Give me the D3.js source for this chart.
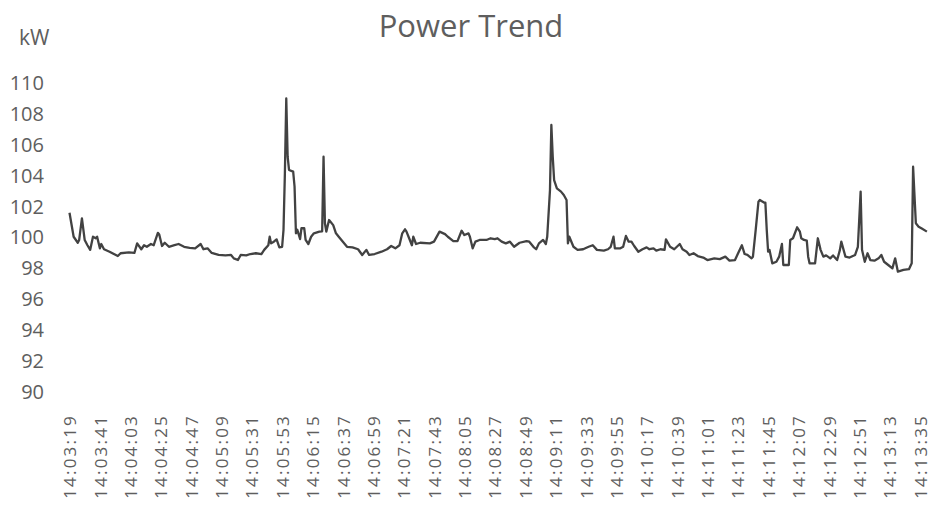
<!DOCTYPE html>
<html>
<head>
<meta charset="utf-8">
<script src="https://cdn.jsdelivr.net/npm/d3@7/dist/d3.min.js"></script>
<style>
  html, body { margin: 0; padding: 0; background: #fff; }
  svg { display: block; }
</style>
</head>
<body>
<svg id="chart" width="933" height="506"></svg>
<script>
// ---- data ----
const titleText = "Power Trend";
const unitLabel = "kW";
const tickLabels = ["14:03:19","14:03:41","14:04:03","14:04:25","14:04:47","14:05:09","14:05:31","14:05:53","14:06:15","14:06:37","14:06:59","14:07:21","14:07:43","14:08:05","14:08:27","14:08:49","14:09:11","14:09:33","14:09:55","14:10:17","14:10:39","14:11:01","14:11:23","14:11:45","14:12:07","14:12:29","14:12:51","14:13:13","14:13:35"];
const tickStepSec = 22;
const yTicks = [90,92,94,96,98,100,102,104,106,108,110];
// seconds elapsed since 14:03:19
const elapsedSec = [0,3,6,7,9,11,13,15,17,19,20,22,23,25,29,35,37,43,47,49,52,54,56,59,61,64,65,67,69,72,76,79,83,87,91,95,97,100,103,108,113,117,119,122,124,128,131,135,139,141,144,145,146,148,150,152,154,155,156,157,158,159,162,163,164,165,167,168,170,171,173,175,177,181,183,184,185,186,188,191,193,195,198,201,205,209,212,215,217,221,226,230,233,236,239,241,243,244,246,248,249,251,254,261,264,268,272,274,278,281,284,286,289,290,292,294,297,302,305,308,310,313,316,319,322,326,331,333,336,338,340,343,345,346,348,349,350,351,353,356,358,360,361,362,365,368,372,376,379,382,387,390,392,394,395,399,401,403,405,407,409,412,415,418,420,423,425,428,431,432,435,438,442,444,447,449,452,455,459,462,467,471,475,478,482,484,487,489,491,494,495,497,499,500,503,504,505,506,507,509,512,514,516,517,521,522,524,527,529,530,532,534,535,536,540,542,544,546,548,551,553,556,558,559,562,565,569,571,573,574,576,578,580,583,586,588,590,593,596,598,600,604,608,610,611,613,615,617,621];
const powerKW = [101.6,100.05,99.66,99.84,101.24,99.84,99.5,99.2,100.05,99.95,100.05,99.3,99.58,99.24,99.08,98.8,98.98,99.04,99.0,99.62,99.24,99.5,99.4,99.58,99.5,100.3,100.2,99.45,99.66,99.4,99.5,99.58,99.4,99.33,99.3,99.58,99.24,99.3,99.0,98.87,98.84,98.87,98.65,98.54,98.87,98.84,98.93,98.98,98.93,99.2,99.5,100.05,99.62,99.73,99.88,99.36,99.4,100.49,104.15,109.0,105.23,104.37,104.26,103.3,100.27,100.5,99.9,100.6,100.6,99.84,99.58,100.05,100.27,100.38,100.4,105.23,100.92,100.38,101.13,100.8,100.27,100.05,99.73,99.4,99.36,99.24,98.87,99.2,98.87,98.93,99.08,99.24,99.45,99.3,99.5,100.27,100.53,100.4,99.95,99.5,100.05,99.58,99.66,99.62,99.73,100.38,100.22,100.05,99.77,99.77,100.44,100.16,100.27,100.05,99.3,99.73,99.84,99.84,99.95,99.9,99.95,99.73,99.62,99.73,99.4,99.66,99.77,99.73,99.4,99.24,99.62,99.84,99.58,100.05,103.07,107.28,105.23,103.72,103.18,102.97,102.75,102.43,99.62,100.05,99.4,99.2,99.24,99.4,99.5,99.2,99.15,99.24,99.4,100.05,99.3,99.3,99.4,100.1,99.73,99.73,99.45,99.08,99.24,99.36,99.24,99.3,99.15,99.24,99.2,99.88,99.4,99.24,99.58,99.24,99.08,98.87,98.98,98.8,98.7,98.54,98.65,98.6,98.76,98.5,98.54,98.93,99.5,98.93,98.87,98.65,98.76,100.49,102.32,102.43,102.26,102.26,100.49,99.08,99.2,98.33,98.43,98.76,99.58,98.22,98.22,99.84,99.95,100.66,100.38,99.95,99.84,99.8,98.76,98.33,98.33,99.95,99.2,98.76,98.84,98.65,98.84,98.54,99.2,99.73,98.76,98.7,98.87,99.4,102.97,99.2,98.43,98.98,98.54,98.5,98.65,98.87,98.43,98.22,98.0,98.65,97.79,97.9,97.95,98.33,104.58,100.92,100.7,100.6,100.38];

// ---- chart ----
const svg = d3.select("#chart");
const textColor = "#5e5e5e";
const font = "'Open Sans', sans-serif";

const x = d3.scaleLinear()
  .domain([0, tickStepSec * (tickLabels.length - 1)])
  .range([69.5, 920]);
const y = d3.scaleLinear().domain([90, 110]).range([392, 83]);

// title
svg.append("text")
  .attr("x", 471).attr("y", 37)
  .attr("text-anchor", "middle")
  .attr("font-family", font).attr("font-size", 31)
  .attr("fill", textColor)
  .text(titleText);

// unit label
svg.append("text")
  .attr("x", 19).attr("y", 45)
  .attr("font-family", font).attr("font-size", 21)
  .attr("fill", textColor)
  .text(unitLabel);

// y axis (labels only)
const yAxis = d3.axisLeft(y).tickValues(yTicks).tickSize(0).tickPadding(0);
const gy = svg.append("g").attr("transform", "translate(44,0)").call(yAxis);
gy.select(".domain").remove();
gy.selectAll("text")
  .attr("font-family", font).attr("font-size", 20)
  .attr("fill", textColor);

// x axis (rotated labels)
const xAxis = d3.axisBottom(x)
  .tickValues(tickLabels.map((d, i) => i * tickStepSec))
  .tickFormat((d, i) => tickLabels[i])
  .tickSize(0);
const gx = svg.append("g").attr("transform", "translate(0,414)").call(xAxis);
gx.select(".domain").remove();
gx.selectAll("text")
  .attr("font-family", font).attr("font-size", 17)
  .attr("letter-spacing", "2.2px")
  .attr("fill", textColor)
  .attr("text-anchor", "end")
  .attr("transform", "rotate(-90)")
  .attr("x", 0).attr("y", 0).attr("dy", "0.36em");

// line
const data = elapsedSec.map((t, i) => ({ t, v: powerKW[i] }));
const line = d3.line().x(d => x(d.t)).y(d => y(d.v));
svg.append("path")
  .datum(data)
  .attr("fill", "none")
  .attr("stroke", "#424242")
  .attr("stroke-width", 2.3)
  .attr("stroke-linejoin", "round")
  .attr("d", line);
</script>
</body>
</html>
